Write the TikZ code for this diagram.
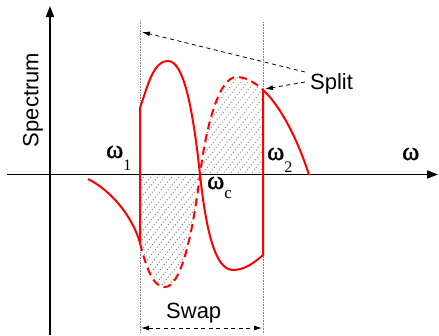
\documentclass[tikz,border=0pt]{standalone}
\usepackage{fontspec}
\setmainfont{Liberation Sans}
\newfontfamily\grk[FakeBold=1.2]{Liberation Serif}
\newfontfamily\subfnt{Liberation Serif}
\usetikzlibrary{arrows.meta}
\begin{document}
\begin{tikzpicture}[x=1pt,y=-1pt,
  axis/.style={line width=1.6pt,-{Triangle[length=11pt,width=8pt]}},
  guide/.style={densely dotted,gray,line width=0.6pt},
  spec/.style={red,line width=2pt},
  specdash/.style={spec,dash pattern=on 8pt off 5pt},
  callout/.style={dash pattern=on 4pt off 3.5pt,line width=0.8pt,-{Latex[length=8pt,width=5pt]}},
  hatch/.style={dash pattern=on 0.8pt off 2.4pt,line width=0.7pt,black!80},
  lbl/.style={font=\fontsize{22}{26}\selectfont,inner sep=0pt},
  om/.style={font=\grk\fontsize{26}{30}\selectfont,inner sep=0pt}]
\useasboundingbox (0,0) rectangle (439,335);
% hatching
\begin{scope}
\clip (140,174.5) -- (140,243) .. controls (148,275) and (155,287) .. (165,287)
  .. controls (180,287) and (192,240) .. (200,174.5)
  .. controls (207,120) and (220,78) .. (236,77)
  .. controls (248,77) and (256,84) .. (263,90) -- (263,174.5) -- cycle;
\foreach \i in {-60,-53,...,280} \draw[hatch] (\i,300) -- ++(200,-250);
\end{scope}
% guides
\coordinate (g1t) at (140,20); \coordinate (g1b) at (140,333);
\coordinate (g2t) at (263,22); \coordinate (g2b) at (263,333);
\draw[guide] (g1t) -- (g1b);
\draw[guide] (g2t) -- (g2b);
% axes
\coordinate (xs) at (7,174.5); \coordinate (xe) at (438,174.5);
\coordinate (ys) at (50,335); \coordinate (ye) at (50,6);
\draw[axis] (xs) -- (xe);
\draw[axis] (ys) -- (ye);
% spectrum
\draw[spec] (88,179) .. controls (110,190) and (132,215) .. (140,243);
\draw[spec] (140,243) -- (140,108) -- (146,90) .. controls (152,72) and (158,61) .. (168,61)
  .. controls (184,61) and (193,110) .. (200,174.5)
  .. controls (206,230) and (215,270) .. (233,270)
  .. controls (245,270) and (255,262) .. (263,255) -- (263,90);
\draw[spec] (263,90) .. controls (280,105) and (298,140) .. (309,175);
\draw[specdash] (140,243) .. controls (148,275) and (155,287) .. (165,287)
  .. controls (180,287) and (192,240) .. (200,174.5)
  .. controls (207,120) and (220,78) .. (236,77)
  .. controls (248,77) and (256,84) .. (263,90);
% labels
\node[lbl,rotate=90] (spectrum) at (33,100) {Spectrum};
\node[lbl,anchor=base west] (split) at (310,89) {Split};
\node[lbl,anchor=base west] (swap) at (166,318) {Swap};
\node[om,anchor=base west] (o1) at (106,158) {ω\raisebox{-12pt}{\subfnt\fontsize{16}{16}\selectfont 1}};
\node[om,anchor=base west] (o2) at (267,160) {ω\raisebox{-12pt}{\subfnt\fontsize{16}{16}\selectfont 2}};
\node[om,anchor=base west] (oc) at (207,189) {ω\raisebox{-9pt}{\subfnt\fontsize{17}{17}\selectfont c}};
\node[om,anchor=base west] (om) at (402,160) {ω};
% callouts
\coordinate (s1) at (305,72); \coordinate (s2) at (305,82);
\coordinate (t1) at (142,32); \coordinate (t2) at (265,89);
\draw[callout] (s1) -- (t1);
\draw[callout] (s2) -- (t2);
\coordinate (w1) at (141,328); \coordinate (w2) at (262,328);
\draw[callout,{Latex[length=8pt,width=5pt]}-{Latex[length=8pt,width=5pt]}] (w1) -- (w2);
\end{tikzpicture}
\end{document}
